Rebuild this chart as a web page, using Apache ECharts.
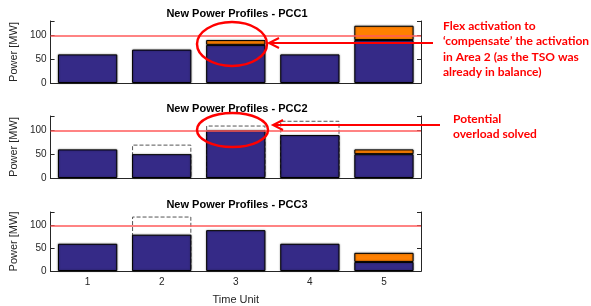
<!DOCTYPE html>
<html>
<head>
<meta charset="utf-8">
<script src="https://cdn.jsdelivr.net/npm/echarts@6/dist/echarts.min.js"></script>
<style>
  body { margin: 0; background: #fff; }
  #main { width: 591px; height: 306px; }
</style>
</head>
<body>
<div id="main"></div>
<script>
// time units on x axis
const timeUnits = ['1', '2', '3', '4', '5'];
const titles = ['New Power Profiles - PCC1', 'New Power Profiles - PCC2', 'New Power Profiles - PCC3'];
// new profile (base part, navy)
const baseP1 = [60, 70, 80, 60, 90];
const baseP2 = [60, 50, 100, 90, 50];
const baseP3 = [60, 80, 90, 60, 20];
// flex activation on top (orange)
const flexP1 = [null, null, 10, null, 30];
const flexP2 = [null, null, null, null, 10];
const flexP3 = [null, null, null, null, 20];
// original profile where it differs (dashed outline)
const origP1 = [null, null, null, null, null];
const origP2 = [null, 70, 110, 120, null];
const origP3 = [null, 120, null, null, null];
const limit = 100;
const yTicks = [0, 50, 100];

const base = [baseP1, baseP2, baseP3];
const flex = [flexP1, flexP2, flexP3];
const orig = [origP1, origP2, origP3];

const txt = '#262626';
const tops = [21, 116, 212];
const gridH = 62;

let grids = [], xAxes = [], yAxes = [], series = [], titleList = [];

for (let i = 0; i < 3; i++) {
    grids.push({ left: 43, width: 378, top: tops[i], height: gridH });
    titleList.push({
        text: titles[i], left: 232, top: tops[i] - 18, textAlign: 'center',
        textStyle: { fontFamily: 'Liberation Sans', fontSize: 11, fontWeight: 'bold', color: '#000' }
    });
    // bottom x
    xAxes.push({
        type: 'category', gridIndex: i, data: timeUnits, position: 'bottom',
        axisLine: { lineStyle: { color: txt } },
        axisTick: { inside: true, alignWithLabel: true, length: 4, lineStyle: { color: txt } },
        axisLabel: { show: i === 2, color: txt, fontSize: 10, fontFamily: 'Liberation Sans', margin: 6 },
        name: i === 2 ? 'Time Unit' : '', nameLocation: 'middle', nameGap: 23,
        nameTextStyle: { color: txt, fontSize: 11, fontFamily: 'Liberation Sans' }
    });
    // top x (box + ticks)
    xAxes.push({
        type: 'category', gridIndex: i, data: timeUnits, position: 'top',
        axisLine: { lineStyle: { color: txt } },
        axisTick: { inside: true, alignWithLabel: true, length: 4, lineStyle: { color: txt } },
        axisLabel: { show: false }
    });
    yAxes.push({
        type: 'value', gridIndex: i, min: 0, max: 130, interval: 50, position: 'left',
        splitLine: { show: false },
        axisLine: { show: true, lineStyle: { color: txt } },
        axisTick: { show: true, inside: true, length: 4, lineStyle: { color: txt } },
        axisLabel: {
            color: txt, fontSize: 10, fontFamily: 'Liberation Sans', margin: 4,
            formatter: v => (yTicks.indexOf(v) >= 0 ? String(v) : '')
        },
        name: 'Power [MW]', nameLocation: 'middle', nameGap: 24,
        nameTextStyle: { color: txt, fontSize: 11, fontFamily: 'Liberation Sans' }
    });
    yAxes.push({
        type: 'value', gridIndex: i, min: 0, max: 130, interval: 50, position: 'right',
        splitLine: { show: false },
        axisLine: { show: true, lineStyle: { color: txt } },
        axisTick: { show: true, inside: true, length: 4, lineStyle: { color: txt } },
        axisLabel: { show: false }
    });

    series.push({
        type: 'bar', xAxisIndex: i * 2, yAxisIndex: i * 2, stack: 'orig' + i,
        data: orig[i], barWidth: '80%', barGap: '-100%', silent: true,
        itemStyle: { color: '#fff', borderColor: '#555', borderWidth: 1, borderType: 'dashed' }
    });
    series.push({
        type: 'bar', xAxisIndex: i * 2, yAxisIndex: i * 2, stack: 'new' + i,
        data: base[i], barWidth: '80%', barGap: '-100%', silent: true,
        itemStyle: { color: '#352A87', borderColor: '#000', borderWidth: 1,
            shadowBlur: 2, shadowColor: 'rgba(0,0,0,0.45)' }
    });
    series.push({
        type: 'bar', xAxisIndex: i * 2, yAxisIndex: i * 2, stack: 'new' + i,
        data: flex[i], barWidth: '80%', barGap: '-100%', silent: true,
        itemStyle: { color: '#FF8000', borderColor: '#000', borderWidth: 1,
            shadowBlur: 2, shadowColor: 'rgba(0,0,0,0.45)' },
        markLine: {
            silent: true, symbol: 'none', label: { show: false },
            lineStyle: { color: '#FF5A5A', width: 1.5, type: 'solid' },
            data: [{ yAxis: limit }]
        }
    });
}

const red = '#FF0000';
const annFont = 'Lato';

let chart = echarts.init(document.getElementById('main'));
chart.setOption({
    animation: false,
    title: titleList,
    grid: grids,
    xAxis: xAxes,
    yAxis: yAxes,
    series: series,
    graphic: [
        // PCC1 callout
        { type: 'ellipse', shape: { cx: 232, cy: 44, rx: 35, ry: 22 },
          style: { fill: null, stroke: red, lineWidth: 2.5 }, z: 100 },
        { type: 'line', shape: { x1: 433, y1: 43, x2: 270, y2: 43 },
          style: { stroke: red, lineWidth: 2 }, z: 100 },
        { type: 'polyline', shape: { points: [[279, 38], [269, 43], [279, 48]] },
          style: { fill: null, stroke: red, lineWidth: 2 }, z: 100 },
        { type: 'text', left: 443, top: 18, z: 100,
          style: { text: 'Flex activation to\n‘compensate’ the activation\nin Area 2 (as the TSO was\nalready in balance)',
                   fill: red, font: 'bold 12px ' + annFont, lineHeight: 15.5 } },
        // PCC2 callout
        { type: 'ellipse', shape: { cx: 232.5, cy: 130, rx: 35.5, ry: 17 },
          style: { fill: null, stroke: red, lineWidth: 2.5 }, z: 100 },
        { type: 'line', shape: { x1: 440, y1: 125, x2: 274, y2: 125 },
          style: { stroke: red, lineWidth: 2 }, z: 100 },
        { type: 'polyline', shape: { points: [[283, 120], [273, 125], [283, 130]] },
          style: { fill: null, stroke: red, lineWidth: 2 }, z: 100 },
        { type: 'text', left: 453, top: 111, z: 100,
          style: { text: 'Potential\noverload solved', fill: red, font: 'bold 12px ' + annFont, lineHeight: 15.5 } }
    ]
});
</script>
</body>
</html>
